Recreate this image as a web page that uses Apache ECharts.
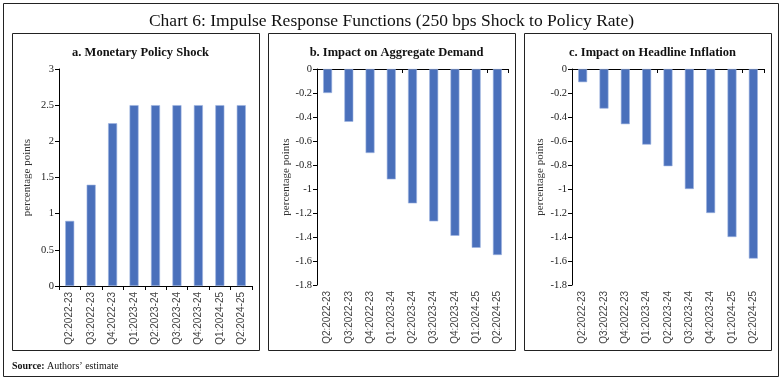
<!DOCTYPE html>
<html><head><meta charset="utf-8">
<script src="https://cdn.jsdelivr.net/npm/echarts@6/dist/echarts.min.js"></script>
<style>html,body{margin:0;padding:0;background:#fff}#c{width:783px;height:381px}</style>
</head><body><div id="c"></div>
<script>
const categories = ['Q2:2022-23','Q3:2022-23','Q4:2022-23','Q1:2023-24','Q2:2023-24','Q3:2023-24','Q4:2023-24','Q1:2024-25','Q2:2024-25'];
const policyShock = [0.9, 1.4, 2.25, 2.5, 2.5, 2.5, 2.5, 2.5, 2.5];
const aggregateDemand = [-0.20, -0.44, -0.70, -0.92, -1.12, -1.27, -1.39, -1.49, -1.55];
const headlineInflation = [-0.11, -0.33, -0.46, -0.63, -0.81, -1.00, -1.20, -1.40, -1.58];
const panelTitles = ['a. Monetary Policy Shock','b. Impact on Aggregate Demand','c. Impact on Headline Inflation'];
const mainTitle = 'Chart 6: Impulse Response Functions (250 bps Shock to Policy Rate)';
const yName = 'percentage points';

const serif = '"Liberation Serif", "DejaVu Serif", serif';
const sans = '"Liberation Sans", Arial, sans-serif';
const barColor = '#4a70bb';
const grids = [
  {left: 59, top: 69, width: 193, height: 217},
  {left: 317, top: 69, width: 191, height: 216},
  {left: 572, top: 69, width: 192, height: 216}
];
const boxes = [[12,33,247,317],[268,33,247,317],[524,33,247,317]];
const titleCenters = [135.5, 391.5, 647.5];
const seriesData = [policyShock, aggregateDemand, headlineInflation];
const yRanges = [[0,3,0.5],[-1.8,0,0.2],[-1.8,0,0.2]];
const nameGaps = [26, 24, 26];

const chart = echarts.init(document.getElementById('c'), null, {renderer:'canvas'});
const xAxis = [], yAxis = [], series = [];
const lineStyle = {color:'#000', width:1};
grids.forEach((g,i)=>{
  const neg = i>0;
  xAxis.push({gridIndex:i, type:'category', data:categories, position:'bottom',
    axisLine:{show:!neg, lineStyle}, axisTick:{show:!neg, length:4, lineStyle},
    axisLabel:{rotate:90, fontFamily:sans, fontSize:10, color:'#444', margin:6, interval:0}});
  if (neg) {
    xAxis.push({gridIndex:i, type:'category', data:categories, position:'top',
      axisLine:{show:true, lineStyle}, axisTick:{show:true, length:4, lineStyle, inside:true},
      axisLabel:{show:false}});
  }
  yAxis.push({gridIndex:i, type:'value', min:yRanges[i][0], max:yRanges[i][1], interval:yRanges[i][2],
    name:yName, nameLocation:'middle', nameGap:nameGaps[i], nameRotate:90,
    nameTextStyle:{fontFamily:serif, fontSize:11, color:'#333'},
    axisLine:{show:true, lineStyle}, axisTick:{show:true, length:4, lineStyle},
    splitLine:{show:false},
    axisLabel:{fontFamily:serif, fontSize:10.5, color:'#222', margin:5,
      formatter:v=>String(Math.round(v*10)/10)}});
});
let xi = 0;
grids.forEach((g,i)=>{
  series.push({type:'bar', xAxisIndex:xi, yAxisIndex:i, data:seriesData[i], barWidth:'42%',
    itemStyle:{color:barColor, borderColor:'#9db3e0', borderWidth:0.6}, animation:false});
  xi += (i>0?2:1);
});
const graphic = [
  {type:'rect', shape:{x:3.5,y:3.5,width:775,height:373}, style:{fill:'none', stroke:'#222', lineWidth:1}},
  ...boxes.map(b=>({type:'rect', shape:{x:b[0]+0.5,y:b[1]+0.5,width:b[2],height:b[3]}, style:{fill:'none', stroke:'#222', lineWidth:1}})),
  {type:'text', left:12, top:361, style:{text:'{b|Source:} Authors\u2019 estimate', rich:{b:{fontWeight:'bold', fontFamily:serif, fontSize:10}}, fontFamily:serif, fontSize:10, fill:'#111'}}
];
const title = [{text:mainTitle, left:'center', top:7, textStyle:{fontFamily:serif, fontSize:17.5, fontWeight:'normal', color:'#111'}}];
panelTitles.forEach((t,i)=>title.push({text:t, left:titleCenters[i], top:41, textAlign:'center',
  textStyle:{fontFamily:serif, fontSize:12.5, fontWeight:'bold', color:'#111'}}));
chart.setOption({animation:false, title, grid:grids, xAxis, yAxis, series, graphic});
</script></body></html>
